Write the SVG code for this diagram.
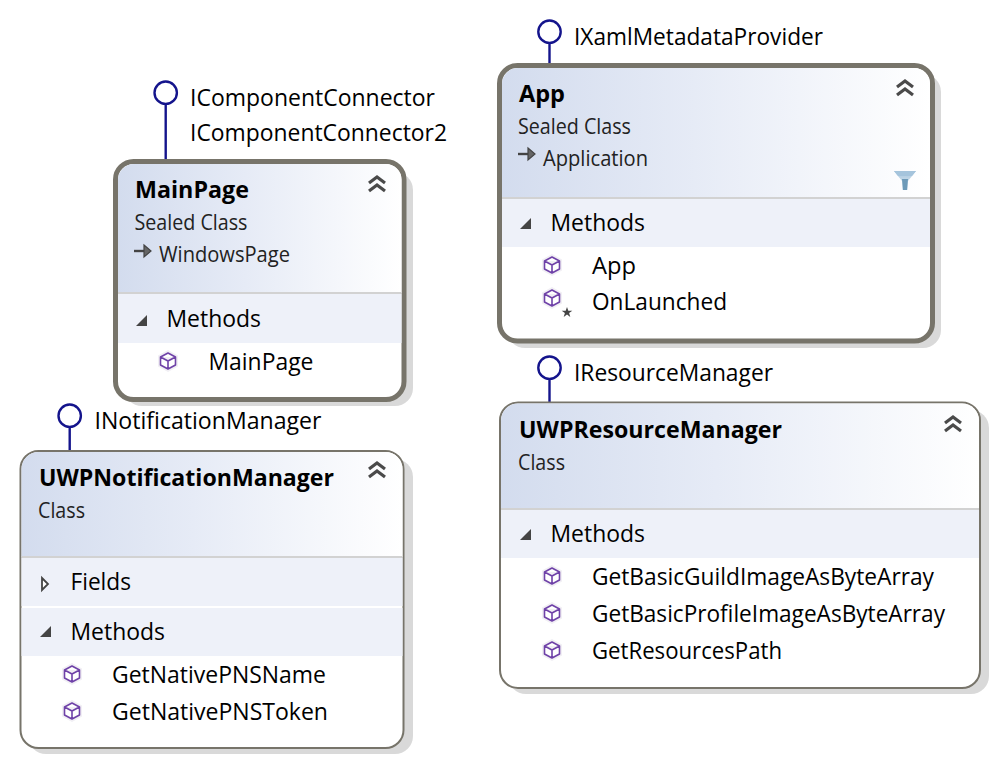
<svg xmlns="http://www.w3.org/2000/svg" xmlns:xlink="http://www.w3.org/1999/xlink" width="998" height="767" viewBox="0 0 998 767">
<style>
text{font-family:"Open Sans","Noto Sans","Liberation Sans",sans-serif;fill:#000}
.t{font-size:23.500px}
.s{font-size:21px;fill:#222}
.b{font-size:23.500px;font-weight:700}
.shadow{fill:#d9d9d9}
.box{fill:#fff;stroke:#77746a}
.thick{stroke-width:5}
.thin{stroke-width:2}
.band{fill:#eef1f9}
.sep{fill:#d2d2d2}
.tri{fill:#444}
.lol{fill:none;stroke:#14148c;stroke-width:2.400}
</style>
<defs>
<linearGradient id="hdr" x1="0" y1="0" x2="1" y2="0"><stop offset="0" stop-color="#d3dcee"/><stop offset=".45" stop-color="#e6ebf6"/><stop offset="1" stop-color="#fff"/></linearGradient>
<linearGradient id="fun" x1="0" y1="0" x2="0" y2="1"><stop offset="0" stop-color="#a5c4dc"/><stop offset="1" stop-color="#e4eef5"/></linearGradient>
<g id="cube"><path d="M0-11 10-5.500V5.500L0 11-10 5.500V-5.500Z" fill="#f1eff4"/><path d="M0-8 7.500-4V4L0 8-7.500 4V-4ZM-7.500-4 0 0 7.500-4M0 0V8" fill="#fff" stroke="#6f42a8" stroke-width="1.600" stroke-linejoin="round"/></g>
<g id="chev"><path d="M-8 -1 0-7 8 -1M-8 7 0 1 8 7" fill="none" stroke="#4a4a4a" stroke-width="3.200"/></g>
<g id="inh"><path d="M0 0H10" stroke="#444" stroke-width="2.400"/><path d="M10-6 17 0 10 6Z" fill="#666" stroke="#444" stroke-width="1.200"/></g>
<polygon id="tdown" points="11,0 11,11 0,11"/>
</defs>

<g id="connectors">
<path class="lol" d="M165.700 104V160"/><circle class="lol" cx="165.700" cy="92.700" r="11.200"/>
<path class="lol" d="M549.500 43V64"/><circle class="lol" cx="549.500" cy="31.700" r="11.200"/>
<path class="lol" d="M69.700 427V450"/><circle class="lol" cx="69.700" cy="415.700" r="11.200"/>
<path class="lol" d="M549.500 379V402"/><circle class="lol" cx="549.500" cy="367.700" r="11.200"/>
</g>

<g id="node-MainPage">
<rect class="shadow" x="124" y="172" width="289" height="234" rx="18"/>
<rect class="box thick" x="115.500" y="161.500" width="288.500" height="238" rx="18"/>
<path d="M118 293V180a16 16 0 0 1 16-16H385.500a16 16 0 0 1 16 16V293Z" fill="url(#hdr)"/>
<rect class="sep" x="118" y="292" width="283.500" height="2"/>
<rect class="band" x="118" y="294" width="283.500" height="49"/>
<text class="b" x="135" y="197.500" textLength="114" lengthAdjust="spacingAndGlyphs">MainPage</text>
<text class="s" x="134.500" y="230" textLength="113" lengthAdjust="spacingAndGlyphs">Sealed Class</text>
<use xlink:href="#inh" href="#inh" x="134" y="251"/>
<text class="s" x="159" y="262" textLength="131" lengthAdjust="spacingAndGlyphs">WindowsPage</text>
<use xlink:href="#chev" href="#chev" x="377" y="184"/>
<use class="tri" xlink:href="#tdown" href="#tdown" x="136" y="315"/>
<text class="t" x="166.500" y="327" textLength="94.500" lengthAdjust="spacingAndGlyphs">Methods</text>
<use xlink:href="#cube" href="#cube" x="168" y="361"/>
<text class="t" x="208.500" y="370" textLength="105" lengthAdjust="spacingAndGlyphs">MainPage</text>
</g>
<g id="label-MainPage-interfaces">
<text class="t" x="190" y="106" textLength="245" lengthAdjust="spacingAndGlyphs">IComponentConnector</text>
<text class="t" x="190" y="141" textLength="257" lengthAdjust="spacingAndGlyphs">IComponentConnector2</text>
</g>

<g id="node-App">
<rect class="shadow" x="507" y="74" width="434" height="274" rx="18"/>
<rect class="box thick" x="499.500" y="65.500" width="433" height="275.500" rx="18"/>
<path d="M502 198V84a16 16 0 0 1 16-16H914a16 16 0 0 1 16 16V198Z" fill="url(#hdr)"/>
<rect class="sep" x="502" y="197" width="428" height="2"/>
<rect class="band" x="502" y="199" width="428" height="48"/>
<text class="b" x="519" y="101.500" textLength="46" lengthAdjust="spacingAndGlyphs">App</text>
<text class="s" x="518" y="134" textLength="113" lengthAdjust="spacingAndGlyphs">Sealed Class</text>
<use xlink:href="#inh" href="#inh" x="518" y="154"/>
<text class="s" x="543" y="166" textLength="105" lengthAdjust="spacingAndGlyphs">Application</text>
<use xlink:href="#chev" href="#chev" x="905" y="88"/>
<path d="M894 171H916L908 181V190H902V181Z" fill="url(#fun)"/><path d="M902 179H908L907 190H903Z" fill="#6d9ab8"/><path d="M894 171H916L912 176H898Z" fill="#a5c4dc"/>
<use class="tri" xlink:href="#tdown" href="#tdown" x="520" y="218"/>
<text class="t" x="550.500" y="230.500" textLength="94.500" lengthAdjust="spacingAndGlyphs">Methods</text>
<use xlink:href="#cube" href="#cube" x="552" y="265"/>
<text class="t" x="592" y="274" textLength="44" lengthAdjust="spacingAndGlyphs">App</text>
<use xlink:href="#cube" href="#cube" x="552" y="298"/>
<path d="M567 307 568.300 310.800H572.300L569.100 313.100 570.300 316.900 567 314.600 563.700 316.900 564.900 313.100 561.700 310.800H565.700Z" fill="#444"/>
<text class="t" x="592" y="310" textLength="135" lengthAdjust="spacingAndGlyphs">OnLaunched</text>
</g>
<g id="label-App-interface">
<text class="t" x="574" y="45" textLength="249" lengthAdjust="spacingAndGlyphs">IXamlMetadataProvider</text>
</g>

<g id="node-UWPNotificationManager">
<rect class="shadow" x="28" y="459" width="385" height="295" rx="18"/>
<rect class="box thin" x="20.500" y="451" width="383" height="297" rx="18"/>
<path d="M21.500 557V469a17 17 0 0 1 17-17H385.500a17 17 0 0 1 17 17V557Z" fill="url(#hdr)"/>
<rect class="sep" x="21.500" y="556" width="381" height="2"/>
<rect class="band" x="21.500" y="558" width="381" height="48"/>
<rect class="band" x="21.500" y="608" width="381" height="48"/>
<text class="b" x="39" y="486" textLength="295" lengthAdjust="spacingAndGlyphs">UWPNotificationManager</text>
<text class="s" x="38" y="518" textLength="47" lengthAdjust="spacingAndGlyphs">Class</text>
<use xlink:href="#chev" href="#chev" x="377" y="470"/>
<path d="M42 578 48 584 42 590Z" fill="#fff" stroke="#444" stroke-width="1.800"/>
<text class="t" x="70.500" y="590" textLength="60.500" lengthAdjust="spacingAndGlyphs">Fields</text>
<use class="tri" xlink:href="#tdown" href="#tdown" x="40" y="626"/>
<text class="t" x="70.500" y="640" textLength="94.500" lengthAdjust="spacingAndGlyphs">Methods</text>
<use xlink:href="#cube" href="#cube" x="72" y="674"/>
<text class="t" x="112" y="683" textLength="214" lengthAdjust="spacingAndGlyphs">GetNativePNSName</text>
<use xlink:href="#cube" href="#cube" x="72" y="711"/>
<text class="t" x="112" y="720" textLength="216" lengthAdjust="spacingAndGlyphs">GetNativePNSToken</text>
</g>
<g id="label-UWPNotificationManager-interface">
<text class="t" x="94.500" y="429" textLength="227" lengthAdjust="spacingAndGlyphs">INotificationManager</text>
</g>

<g id="node-UWPResourceManager">
<rect class="shadow" x="508" y="410" width="481" height="284" rx="18"/>
<rect class="box thin" x="500" y="402.500" width="480" height="285.500" rx="18"/>
<path d="M501 509V420.500a17 17 0 0 1 17-17H962a17 17 0 0 1 17 17V509Z" fill="url(#hdr)"/>
<rect class="sep" x="501" y="508" width="478" height="2"/>
<rect class="band" x="501" y="510" width="478" height="48"/>
<text class="b" x="519" y="438" textLength="263" lengthAdjust="spacingAndGlyphs">UWPResourceManager</text>
<text class="s" x="518" y="470" textLength="47" lengthAdjust="spacingAndGlyphs">Class</text>
<use xlink:href="#chev" href="#chev" x="953" y="424"/>
<use class="tri" xlink:href="#tdown" href="#tdown" x="520" y="529"/>
<text class="t" x="550.500" y="542" textLength="94.500" lengthAdjust="spacingAndGlyphs">Methods</text>
<use xlink:href="#cube" href="#cube" x="552" y="576"/>
<text class="t" x="592" y="585" textLength="342" lengthAdjust="spacingAndGlyphs">GetBasicGuildImageAsByteArray</text>
<use xlink:href="#cube" href="#cube" x="552" y="613"/>
<text class="t" x="592" y="622" textLength="353" lengthAdjust="spacingAndGlyphs">GetBasicProfileImageAsByteArray</text>
<use xlink:href="#cube" href="#cube" x="552" y="650"/>
<text class="t" x="592" y="659" textLength="190" lengthAdjust="spacingAndGlyphs">GetResourcesPath</text>
</g>
<g id="label-UWPResourceManager-interface">
<text class="t" x="574" y="381" textLength="199" lengthAdjust="spacingAndGlyphs">IResourceManager</text>
</g>
</svg>
